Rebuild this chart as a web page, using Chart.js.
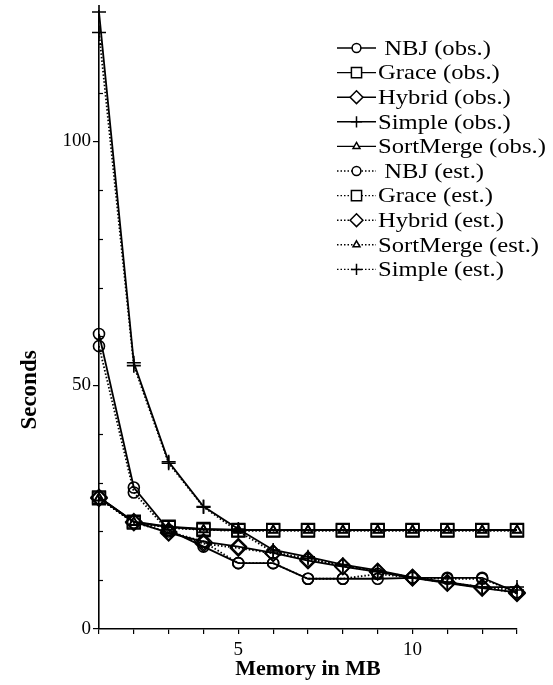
<!DOCTYPE html>
<html>
<head>
<meta charset="utf-8">
<script src="https://cdn.jsdelivr.net/npm/chart.js@4/dist/chart.umd.min.js"></script>
<style>
  html, body { margin: 0; padding: 0; background: #fff; }
  #wrap { width: 553px; height: 685px; position: relative; }
</style>
</head>
<body>
<div id="wrap"><canvas id="c"></canvas></div>
<script>
// Memory available to the join (MB)
const memoryMB = [1, 2, 3, 4, 5, 6, 7, 8, 9, 10, 11, 12, 13];

// Elapsed time in seconds, observed runs
const nbjObs       = [60.5, 29.0, 20.3, 16.9, 13.5, 13.5, 10.3, 10.3, 10.3, 10.5, 10.5, 10.5, 7.5];
const graceObs     = [27.0, 22.0, 21.0, 20.5, 20.3, 20.3, 20.3, 20.3, 20.3, 20.3, 20.3, 20.3, 20.3];
const hybridObs    = [27.0, 22.0, 19.7, 17.9, 16.9, 15.6, 14.0, 12.8, 11.7, 10.5, 9.4, 8.4, 7.5];
const simpleObs    = [126.5, 54.6, 34.3, 25.1, 20.5, 16.2, 14.8, 13.2, 12.0, 10.6, 9.6, 8.6, 8.6];
const sortMergeObs = [26.9, 21.9, 20.9, 20.4, 20.3, 20.3, 20.3, 20.3, 20.3, 20.3, 20.3, 20.3, 20.3];

// Elapsed time in seconds, cost-model estimates
const nbjEst       = [58.0, 28.0, 20.0, 17.9, 13.5, 13.5, 10.3, 10.3, 11.3, 10.5, 10.3, 10.3, 7.5];
const graceEst     = [26.8, 21.8, 20.8, 20.3, 20.2, 20.2, 20.2, 20.2, 20.2, 20.2, 20.2, 20.2, 20.2];
const hybridEst    = [26.8, 21.8, 19.9, 17.5, 16.6, 15.5, 14.3, 12.9, 11.8, 10.6, 9.5, 8.6, 7.3];
const sortMergeEst = [26.8, 21.8, 20.8, 20.3, 20.2, 20.2, 20.2, 20.2, 20.2, 20.2, 20.2, 20.2, 20.2];
const simpleEst    = [122.3, 54.0, 34.0, 25.0, 20.0, 15.8, 14.4, 13.0, 11.8, 10.5, 9.5, 8.5, 8.0];

// Axis tick labels
const xTickLabels = [5, 10];
const yTickLabels = [0, 50, 100];

const SERIF = '"Liberation Serif", "Times New Roman", serif';

function series(label, values, marker, radius, estimated) {
  return {
    label: label,
    data: memoryMB.map((m, i) => ({ x: m, y: values[i] })),
    borderColor: '#000',
    borderWidth: 1.8,
    borderDash: estimated ? [1.5, 2] : [],
    pointStyle: marker,
    pointRadius: radius,
    pointHoverRadius: radius,
    pointBackgroundColor: 'rgba(255,255,255,0)',
    pointBorderColor: '#000',
    pointBorderWidth: 1.6,
    tension: 0,
    fill: false,
    clip: false
  };
}

// Listed in legend order
const datasets = [
  series(' NBJ (obs.)',        nbjObs,       'circle',   5.5, false),
  series('Grace (obs.)',       graceObs,     'rect',     9,   false),
  series('Hybrid (obs.)',      hybridObs,    'rectRot',  8,   false),
  series('Simple (obs.)',      simpleObs,    'cross',    7,   false),
  series('SortMerge (obs.)',   sortMergeObs, 'triangle', 5,   false),
  series(' NBJ (est.)',        nbjEst,       'circle',   5.5, true),
  series('Grace (est.)',       graceEst,     'rect',     9,   true),
  series('Hybrid (est.)',      hybridEst,    'rectRot',  8,   true),
  series('SortMerge (est.)',   sortMergeEst, 'triangle', 5,   true),
  series('Simple (est.)',      simpleEst,    'cross',    7,   true)
];

// Small inward ticks every 10 s on the value axis, plus the value-axis title
const axisExtras = {
  id: 'axisExtras',
  afterDraw(chart) {
    const ctx = chart.ctx, y = chart.scales.y;
    ctx.save();
    ctx.strokeStyle = '#000';
    ctx.lineWidth = 1.2;
    for (let v = 10; v <= 120; v += 10) {
      if (v % 50 === 0) continue;
      const py = Math.round(y.getPixelForValue(v)) + 0.5;
      ctx.beginPath();
      ctx.moveTo(y.right, py);
      ctx.lineTo(y.right + 4, py);
      ctx.stroke();
    }
    ctx.translate(30, 390);
    ctx.rotate(-Math.PI / 2);
    ctx.fillStyle = '#000';
    ctx.font = 'bold 23px ' + SERIF;
    ctx.textAlign = 'center';
    ctx.textBaseline = 'middle';
    ctx.fillText('Seconds', 0, 0);
    ctx.restore();
  }
};

// Line-and-marker legend in the upper right of the plot
const sampleLegend = {
  id: 'sampleLegend',
  afterDraw(chart) {
    const ctx = chart.ctx;
    const x0 = 337, x1 = 376, top = 48, step = 24.6;
    ctx.save();
    chart.data.datasets.forEach((ds, i) => {
      const cy = top + i * step;
      ctx.strokeStyle = '#000';
      ctx.lineWidth = 1.4;
      ctx.setLineDash(ds.borderDash);
      ctx.beginPath();
      ctx.moveTo(x0, cy);
      ctx.lineTo(x1, cy);
      ctx.stroke();
      ctx.setLineDash([]);
      ctx.fillStyle = '#fff';
      ctx.lineWidth = 1.5;
      Chart.helpers.drawPoint(ctx, {
        pointStyle: ds.pointStyle,
        radius: ds.pointRadius * 0.8,
        borderWidth: 1.5
      }, (x0 + x1) / 2, cy);
      ctx.fillStyle = '#000';
      ctx.font = '22px ' + SERIF;
      ctx.textBaseline = 'middle';
      ctx.textAlign = 'left';
      ctx.save();
      ctx.translate(x1 + 2, cy + 1);
      ctx.scale(1.12, 1);
      ctx.fillText(ds.label, 0, 0);
      ctx.restore();
    });
    ctx.restore();
  }
};

new Chart(document.getElementById('c'), {
  type: 'line',
  data: { datasets: datasets },
  plugins: [axisExtras, sampleLegend],
  options: {
    responsive: true,
    maintainAspectRatio: false,
    animation: false,
    events: [],
    layout: { padding: { top: 2, right: 36, left: 0, bottom: 0 } },
    plugins: {
      legend: { display: false },
      tooltip: { enabled: false }
    },
    scales: {
      x: {
        type: 'linear',
        min: 1,
        max: 13,
        afterFit(scale) {
          scale.height = 56;
          scale.paddingLeft = 0;
          scale.paddingRight = 0;
        },
        ticks: {
          stepSize: 1,
          autoSkip: false,
          maxRotation: 0,
          padding: 5,
          color: '#000',
          font: { family: SERIF, size: 19 },
          callback: v => (xTickLabels.includes(v) ? String(v) : '')
        },
        grid: { drawOnChartArea: false, tickLength: 5, color: '#000', lineWidth: 1.2 },
        border: { color: '#000', width: 1.6 },
        title: {
          display: true,
          text: 'Memory in MB',
          color: '#000',
          font: { family: SERIF, size: 22, weight: 'bold' },
          padding: { top: 0, bottom: 2 }
        }
      },
      y: {
        type: 'linear',
        min: 0,
        max: 126.8,
        afterFit(scale) {
          scale.width = 99;
          scale.paddingTop = 0;
          scale.paddingBottom = 0;
        },
        afterBuildTicks(scale) { scale.ticks = yTickLabels.map(v => ({ value: v })); },
        ticks: {
          padding: 2,
          color: '#000',
          font: { family: SERIF, size: 19 },
          callback: v => String(v)
        },
        grid: { drawOnChartArea: false, tickLength: 6, color: '#000', lineWidth: 1.2 },
        border: { color: '#000', width: 1.6 }
      }
    }
  }
});
</script>
</body>
</html>
